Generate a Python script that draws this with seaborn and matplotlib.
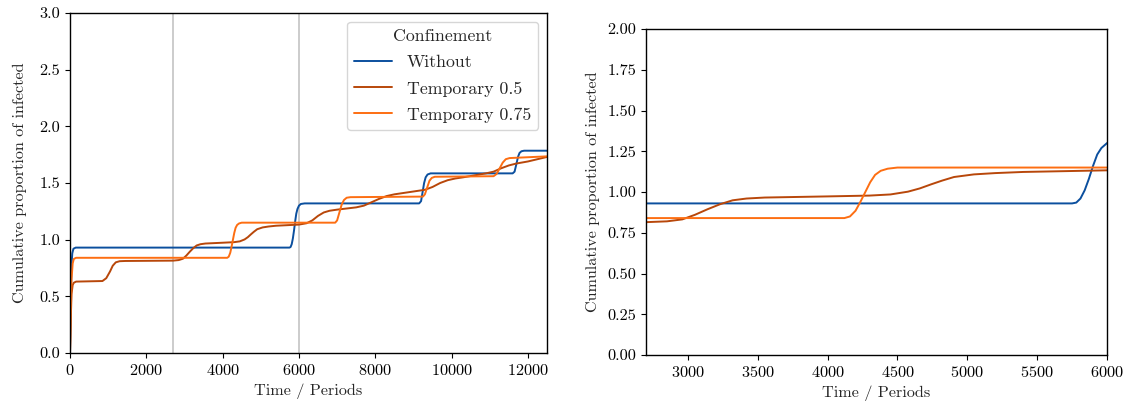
import matplotlib
matplotlib.use("Agg")
import matplotlib.pyplot as plt
import seaborn as sns
import pandas as pd

# ---- data ----
series_names = ["Without", "Temporary 0.5", "Temporary 0.75"]

t_without = [0, 20, 40, 60, 90, 150, 5750, 5780, 5810, 5840, 5870, 5900, 5930, 5960, 6000, 6050, 6150,
             9150, 9200, 9240, 9280, 9320, 9370, 9450,
             11600, 11650, 11700, 11740, 11780, 11830, 11900, 12500]
v_without = [0, 0.45, 0.78, 0.88, 0.92, 0.93, 0.93, 0.935, 0.96, 1.01, 1.08, 1.16, 1.23, 1.27, 1.30, 1.315, 1.32,
             1.32, 1.34, 1.42, 1.50, 1.55, 1.575, 1.585,
             1.585, 1.60, 1.67, 1.73, 1.765, 1.78, 1.785, 1.785]

t_temp05 = [0, 20, 40, 70, 100, 160, 850, 950, 1050, 1120, 1200, 1300, 1450,
            2700, 2850, 2960, 3050, 3140, 3230, 3320, 3420, 3550, 4000, 4300, 4450,
            4575, 4660, 4741, 4820, 4905, 5047, 5200, 5400, 5700, 6000,
            6200, 6350, 6500, 6650, 6800, 7000, 7500, 7700, 7900, 8100, 8300, 8500,
            9000, 9300, 9500, 9700, 9900, 10100, 10300, 10900, 11100, 11300, 11500,
            11700, 12000, 12500]
v_temp05 = [0, 0.30, 0.52, 0.60, 0.62, 0.63, 0.635, 0.66, 0.72, 0.77, 0.80, 0.81, 0.812,
            0.815, 0.82, 0.832, 0.86, 0.894, 0.925, 0.949, 0.96, 0.966, 0.973, 0.978, 0.985,
            1.002, 1.022, 1.047, 1.07, 1.092, 1.108, 1.116, 1.123, 1.128, 1.133,
            1.145, 1.17, 1.21, 1.24, 1.255, 1.265, 1.285, 1.30, 1.33, 1.36, 1.385, 1.40,
            1.425, 1.44, 1.465, 1.50, 1.525, 1.54, 1.55, 1.585, 1.60, 1.63, 1.655,
            1.672, 1.69, 1.73]

t_temp075 = [0, 20, 40, 70, 100, 160, 4120, 4160, 4200, 4235, 4270, 4305, 4340, 4380, 4430, 4500,
             6950, 7000, 7060, 7120, 7180, 7250, 7350,
             9250, 9300, 9360, 9420, 9480, 9560,
             11100, 11180, 11260, 11340, 11420, 11520, 12500]
v_temp075 = [0, 0.35, 0.65, 0.79, 0.83, 0.84, 0.84, 0.85, 0.885, 0.94, 1.00, 1.06, 1.105, 1.13, 1.143, 1.15,
             1.15, 1.17, 1.24, 1.31, 1.35, 1.37, 1.375,
             1.38, 1.40, 1.46, 1.52, 1.545, 1.555,
             1.56, 1.58, 1.63, 1.68, 1.71, 1.72, 1.735]

confinement_lines = [2700, 6000]
left_xticks = [0, 2000, 4000, 6000, 8000, 10000, 12000]
right_xticks = [3000, 3500, 4000, 4500, 5000, 5500, 6000]

# ---- build long-form table ----
frames = []
for name, t, v in [(series_names[0], t_without, v_without),
                   (series_names[1], t_temp05, v_temp05),
                   (series_names[2], t_temp075, v_temp075)]:
    frames.append(pd.DataFrame({"t": t, "v": v, "Confinement": name}))
df = pd.concat(frames, ignore_index=True)

palette = {"Without": "#0b4f9e", "Temporary 0.5": "#b8470a", "Temporary 0.75": "#fd6e12"}

sns.set_style("ticks")
plt.rcParams["font.family"] = ["cmr10", "DejaVu Serif"]
plt.rcParams["mathtext.fontset"] = "cm"
plt.rcParams["axes.formatter.use_mathtext"] = True
plt.rcParams["axes.unicode_minus"] = False
plt.rcParams["font.size"] = 11.7
plt.rcParams["axes.edgecolor"] = "black"
plt.rcParams["xtick.color"] = "black"
plt.rcParams["ytick.color"] = "black"

W, H = 1128, 409
fig = plt.figure(figsize=(W / 100, H / 100), dpi=100)
ax1 = fig.add_axes([70 / W, (H - 353) / H, (547 - 70) / W, (353 - 13) / H])
ax2 = fig.add_axes([646 / W, (H - 355) / H, (1107 - 646) / W, (355 - 29) / H])

for x in confinement_lines:
    ax1.axvline(x, color="#c8c8c8", lw=1.3, zorder=0)

sns.lineplot(data=df, x="t", y="v", hue="Confinement", palette=palette,
             hue_order=series_names, ax=ax1, lw=1.4, sort=False, estimator=None)
sns.lineplot(data=df, x="t", y="v", hue="Confinement", palette=palette,
             hue_order=series_names, ax=ax2, lw=1.4, sort=False, estimator=None,
             legend=False)

ax1.set_xlim(0, 12500)
ax1.set_ylim(0, 3.0)
ax1.set_xticks(left_xticks)
ax1.set_yticks([0, 0.5, 1.0, 1.5, 2.0, 2.5, 3.0])
ax1.yaxis.set_major_formatter(matplotlib.ticker.FormatStrFormatter("%.1f"))

ax2.set_xlim(2700, 6000)
ax2.set_ylim(0, 2.0)
ax2.set_xticks(right_xticks)
ax2.set_yticks([0, 0.25, 0.5, 0.75, 1.0, 1.25, 1.5, 1.75, 2.0])
ax2.yaxis.set_major_formatter(matplotlib.ticker.FormatStrFormatter("%.2f"))

for ax, pad in ((ax1, 9), (ax2, 5)):
    ax.set_xlabel("Time / Periods")
    ax.set_ylabel("Cumulative proportion of infected", labelpad=pad)
    for s in ax.spines.values():
        s.set_linewidth(1.0)
        s.set_visible(True)

leg = ax1.legend(title="Confinement", loc="upper right", frameon=True,
                 fontsize=12.8, title_fontsize=12.8, handlelength=2.1,
                 borderpad=0.4, labelspacing=0.6, handletextpad=0.85,
                 borderaxespad=0.5)
leg.get_frame().set_edgecolor("#cccccc")

fig.savefig("out.png", dpi=100)
